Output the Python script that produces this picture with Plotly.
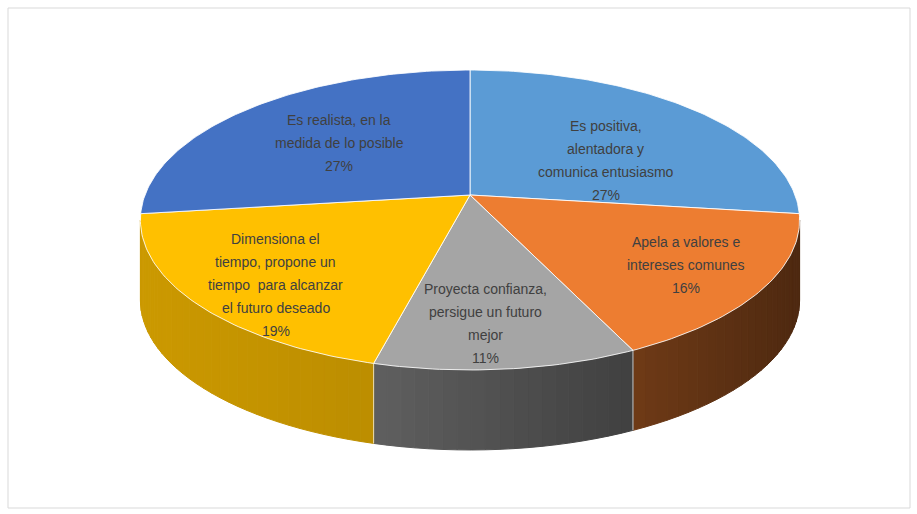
import numpy as np
import plotly.graph_objects as go

# Data: characteristics of a vision and their share of responses
categories = [
    "Es positiva, alentadora y comunica entusiasmo",
    "Apela a valores e intereses comunes",
    "Proyecta confianza, persigue un futuro mejor",
    "Dimensiona el tiempo, propone un tiempo  para alcanzar el futuro deseado",
    "Es realista, en la medida de lo posible",
]
values = [27, 16, 11, 19, 27]
label_lines = [
    ["Es positiva,", "alentadora y", "comunica entusiasmo"],
    ["Apela a valores e", "intereses comunes"],
    ["Proyecta confianza,", "persigue un futuro", "mejor"],
    ["Dimensiona el", "tiempo, propone un", "tiempo  para alcanzar", "el futuro deseado"],
    ["Es realista, en la", "medida de lo posible"],
]
colors = ["#5B9BD5", "#ED7D31", "#A5A5A5", "#FFC000", "#4472C4"]

# Drawing geometry (pixel space of the page)
W, H = 917, 514
CX, CY = 470.0, 195.0      # projected pie centre
A, B = 325.0, 145.8        # horizontal / vertical radii of the tilted disc
K = 0.1667                 # perspective strength
DEPTH = 80.0               # thickness of the pie
# Label anchor inside each slice: (fraction along the slice's arc, radius)
LABEL_POS = [(0.62, 0.50), (0.50, 0.76), (0.56, 0.77), (0.433, 0.78), (0.50, 0.57)]
LINE_GAP = 23.0
# Rim shading (left edge factor, right edge factor) per slice
RIM_SHADE = [(0.45, 0.35), (0.47, 0.33), (0.58, 0.39), (0.80, 0.74), (0.50, 0.45)]

# The rim is visible between the two silhouette points of the tilted disc
RIM_FROM = np.degrees(np.arccos(-K))
RIM_TO = 360.0 - RIM_FROM


def project(theta_deg, r=1.0, drop=0.0):
    t = np.radians(theta_deg)
    u = r * np.sin(t)
    v = r * np.cos(t)
    d = 1 + K * v
    return CX + A * u / d, CY - B * v / d + drop


def hex_to_rgb(h):
    h = h.lstrip("#")
    return [int(h[i:i + 2], 16) for i in (0, 2, 4)]


def shade(h, f):
    r, g, b = hex_to_rgb(h)
    return "rgb({},{},{})".format(int(r * f), int(g * f), int(b * f))


total = float(sum(values))
bounds = np.concatenate([[0.0], np.cumsum(values) / total * 360.0])

fig = go.Figure()

# Side walls (front half of the rim)
for i, col in enumerate(colors):
    a0, a1 = max(bounds[i], RIM_FROM), min(bounds[i + 1], RIM_TO)
    if a1 <= a0:
        continue
    steps = np.linspace(a0, a1, max(2, int((a1 - a0) / 2) + 1))
    xa, _ = project(a0)
    xz, _ = project(a1)
    fl, fr = RIM_SHADE[i]
    for s0, s1 in zip(steps[:-1], steps[1:]):
        xs0, ys0 = project(s0)
        xs1, ys1 = project(s1)
        xb1, yb1 = project(s1, drop=DEPTH)
        xb0, yb0 = project(s0, drop=DEPTH)
        xm = (xs0 + xs1) / 2
        t = (xm - min(xa, xz)) / max(abs(xz - xa), 1e-6)
        c = shade(col, fl + (fr - fl) * t)
        fig.add_trace(go.Scatter(
            x=[xs0, xs1, xb1, xb0, xs0], y=[ys0, ys1, yb1, yb0, ys0],
            mode="lines", fill="toself", fillcolor=c,
            line=dict(color=c, width=1), hoverinfo="skip", showlegend=False))

# Seams between walls
for b in bounds:
    if RIM_FROM < b < RIM_TO:
        xt, yt = project(b)
        xb, yb = project(b, drop=DEPTH)
        fig.add_trace(go.Scatter(
            x=[xt, xb], y=[yt, yb], mode="lines",
            line=dict(color="rgba(255,255,255,0.7)", width=1),
            hoverinfo="skip", showlegend=False))

# Top faces of the slices
for i, col in enumerate(colors):
    arc = np.linspace(bounds[i], bounds[i + 1], int(bounds[i + 1] - bounds[i]) + 2)
    px, py = project(arc)
    xs = np.concatenate([[CX], px, [CX]])
    ys = np.concatenate([[CY], py, [CY]])
    fig.add_trace(go.Scatter(
        x=xs, y=ys, mode="lines", fill="toself", fillcolor=col,
        line=dict(color="rgba(255,255,255,0.85)", width=1),
        name=categories[i], text=f"{categories[i]}: {values[i]}%",
        hoverinfo="text", showlegend=False))

# Data labels
for i in range(len(values)):
    frac, rad = LABEL_POS[i]
    ang = bounds[i] + frac * (bounds[i + 1] - bounds[i])
    lx, ly = project(ang, r=rad)
    lines = label_lines[i] + [f"{values[i]}%"]
    n = len(lines)
    for j, txt in enumerate(lines):
        fig.add_annotation(
            x=lx, y=ly + (j - (n - 1) / 2) * LINE_GAP, text=txt,
            showarrow=False, xanchor="center", yanchor="middle",
            font=dict(family="Liberation Sans Narrow, Liberation Sans, sans-serif",
                      size=14, color="#404040"))

# Chart area border
fig.add_shape(type="rect", xref="x", yref="y", x0=8, y0=8, x1=910, y1=508,
              line=dict(color="#D9D9D9", width=1), fillcolor="rgba(0,0,0,0)")

fig.update_layout(
    width=W, height=H,
    margin=dict(l=0, r=0, t=0, b=0),
    paper_bgcolor="white", plot_bgcolor="white",
    xaxis=dict(range=[0, W], visible=False, fixedrange=True),
    yaxis=dict(range=[H, 0], visible=False, fixedrange=True),
)

fig.write_html("out.html")
